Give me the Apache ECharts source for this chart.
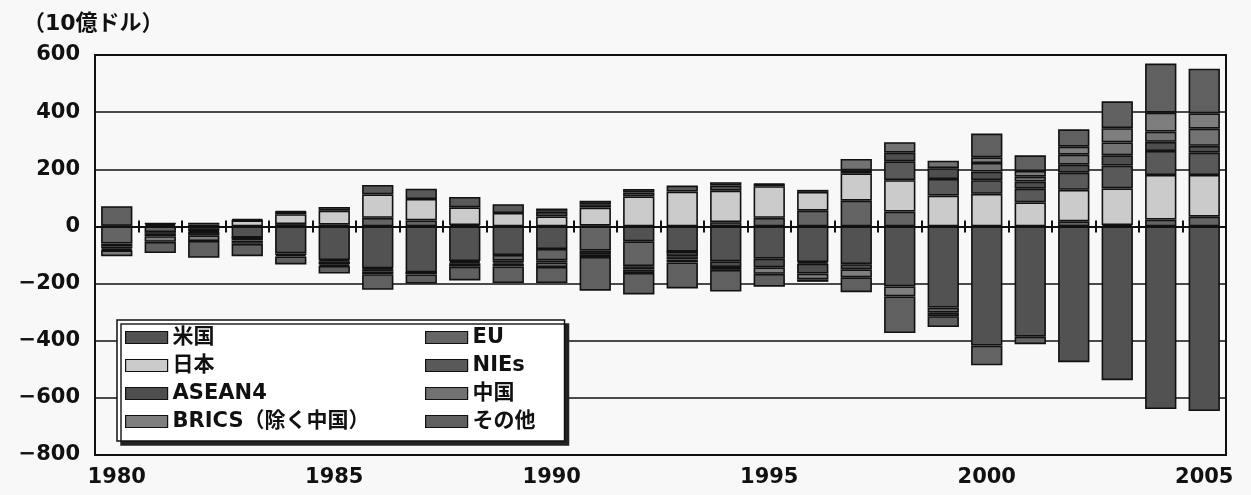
<!DOCTYPE html>
<html>
<head>
<meta charset="utf-8">
<script src="https://cdn.jsdelivr.net/npm/echarts@6/dist/echarts.min.js"></script>
<style>
html,body{margin:0;padding:0;background:#f8f8f8;}
#chart{width:1251px;height:495px;}
</style>
</head>
<body>
<div id="chart"></div>
<script>
// ---- data (10億ドル) ----
const years = ['1980','1981','1982','1983','1984','1985','1986','1987','1988','1989','1990','1991','1992',
               '1993','1994','1995','1996','1997','1998','1999','2000','2001','2002','2003','2004','2005'];
const usa    = [2, 5, -6, -39, -94, -118, -147, -161, -121, -100, -79, 3, -52, -88, -122, -113, -125, -132, -210, -284, -417, -386, -475, -538, -639, -646];
const eu     = [-60, -20, -10, 0, 8, 6, 30, 21, 5, -20, -40, -85, -87, 0, 15, 30, 55, 90, 52, -18, -69, -26, 18, 5, 24, 34];
const japan  = [-11, 5, 7, 21, 35, 49, 82, 75, 62, 47, 35, 63, 105, 122, 110, 111, 66, 96, 110, 108, 114, 84, 110, 128, 156, 146];
const nies   = [-6, -6, -3, 1, 8, 13, 33, 36, 36, 31, 16, 12, 14, 21, 18, 6, -5, 10, 66, 58, 48, 48, 60, 80, 84, 78];
const asean4 = [-5, -8, -12, -10, -6, -4, -3, -1, -4, -6, -8, -12, -12, -16, -20, -30, -35, -18, 30, 38, 30, 25, 28, 36, 32, 24];
const china  = [-2, 1, 6, 4, 2, -11, -7, 0, -4, -4, 12, 12, 12, -12, 12, 2, 7, 40, 37, 26, 30, 17, 35, 45, 36, 60];
const brics  = [-20, -20, -20, -12, -5, -5, -10, -6, -12, -10, -15, -10, -12, -10, -10, -23, -20, -28, -35, -12, 20, 20, 28, 50, 66, 54];
const other  = [69, -39, -59, -43, -28, -27, -55, -32, -48, -58, -56, -118, -75, -91, -76, -45, -9, -52, -128, -38, 83, 55, 61, 94, 172, 156];

const seriesNames = ['米国', 'EU', '日本', 'NIEs', 'ASEAN4', '中国', 'BRICS（除く中国）', 'その他'];
const seriesData  = [usa, eu, japan, nies, asean4, china, brics, other];
const legendLeft  = ['米国', '日本', 'ASEAN4', 'BRICS（除く中国）'];
const legendRight = ['EU', 'NIEs', '中国', 'その他'];
const unitLabel = '（10億ドル）';
const yMin = -800, yMax = 600, yStep = 200;

// ---- styles ----
const FONT = '"DejaVu Sans", "Noto Sans CJK JP", sans-serif';
const INK = '#111';
const colors = ['#525252', '#646464', '#cbcbcb', '#595959', '#4e4e4e', '#727272', '#7e7e7e', '#606060'];

const chart = echarts.init(document.getElementById('chart'), null, {renderer: 'canvas'});

const legendText = {fontSize: 21, fontWeight: 'bold', color: INK, fontFamily: FONT};

const option = {
  backgroundColor: '#f8f8f8',
  animation: false,
  title: {
    text: unitLabel, left: 18, top: 8,
    textStyle: {fontSize: 22, fontWeight: 'bold', color: INK, fontFamily: FONT}
  },
  grid: {
    left: 95, right: 25, top: 55, bottom: 40,
    show: true, borderColor: INK, borderWidth: 2, backgroundColor: 'transparent'
  },
  legend: [
    {
      data: legendLeft, orient: 'vertical', left: 117, top: 320,
      icon: 'rect', itemWidth: 42, itemHeight: 12, itemGap: 7,
      padding: [7, 195, 9, 8],
      backgroundColor: '#ffffff', borderColor: INK, borderWidth: 1.5,
      shadowColor: '#222', shadowBlur: 0, shadowOffsetX: 4, shadowOffsetY: 4,
      textStyle: legendText, selectedMode: false,
      itemStyle: {borderColor: INK, borderWidth: 1.2}
    },
    {
      data: legendRight, orient: 'vertical', left: 425, top: 320,
      icon: 'rect', itemWidth: 42, itemHeight: 12, itemGap: 7,
      padding: [7, 0, 9, 0],
      textStyle: legendText, selectedMode: false,
      itemStyle: {borderColor: INK, borderWidth: 1.2}
    }
  ],
  xAxis: [
    {
      type: 'category', data: years, position: 'bottom',
      axisLine: {show: false, onZero: false},
      axisTick: {show: false},
      axisLabel: {interval: 4, margin: 12, fontSize: 21, fontWeight: 'bold', color: INK, fontFamily: FONT},
      splitLine: {show: false}
    },
    {
      type: 'category', data: years, position: 'bottom',
      axisLine: {show: true, onZero: true, onZeroAxisIndex: 0, lineStyle: {color: INK, width: 2}},
      axisTick: {show: true, interval: 0, length: 6, lineStyle: {color: INK, width: 2}},
      axisLabel: {show: false}, splitLine: {show: false}
    },
    {
      type: 'category', data: years, position: 'top',
      axisLine: {show: true, onZero: true, onZeroAxisIndex: 0, lineStyle: {color: INK, width: 2}},
      axisTick: {show: true, interval: 0, length: 6, lineStyle: {color: INK, width: 2}},
      axisLabel: {show: false}, splitLine: {show: false}
    }
  ],
  yAxis: {
    type: 'value', min: yMin, max: yMax, interval: yStep,
    axisLine: {show: true, lineStyle: {color: INK, width: 2}},
    axisTick: {show: false},
    splitLine: {show: true, lineStyle: {color: INK, width: 1.6}},
    axisLabel: {
      margin: 15, fontSize: 21, fontWeight: 'bold', color: INK, fontFamily: FONT,
      formatter: v => (v < 0 ? '−' + Math.abs(v) : String(v))
    }
  },
  series: seriesNames.map((name, i) => ({
    name: name, type: 'bar', stack: 'total',
    xAxisIndex: 0, yAxisIndex: 0,
    barWidth: '72%',
    data: seriesData[i],
    itemStyle: {color: colors[i], borderColor: INK, borderWidth: 1.6},
    emphasis: {disabled: true}
  }))
};

chart.setOption(option);
</script>
</body>
</html>
